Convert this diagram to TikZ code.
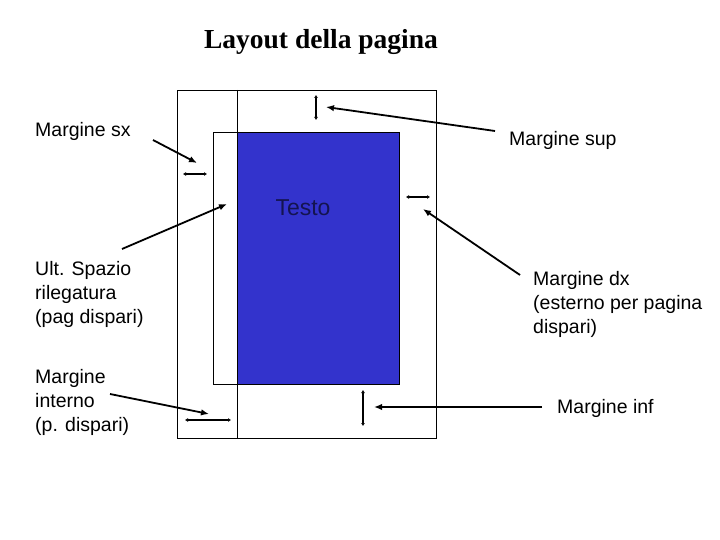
\documentclass[tikz,border=0pt]{standalone}
\usepackage{fontspec}
\setmainfont{Liberation Sans}
\newfontfamily\titlefont{Liberation Serif}
\usetikzlibrary{arrows.meta}
\definecolor{textblue}{RGB}{51,51,204}
\definecolor{navy}{RGB}{20,20,80}
\begin{document}
\begin{tikzpicture}[x=1pt,y=-1pt,
  lbl/.style={anchor=base west,inner sep=0pt,align=left,font=\fontsize{19.5}{24}\selectfont},
  pointer/.style={line width=1.8pt,-{Latex[length=8pt,width=6.5pt]}},
  measure/.style={line width=1.8pt,{Latex[length=3pt,width=4pt]}-{Latex[length=3pt,width=4pt]}},
  frame/.style={draw=black,line width=0.8pt}]
\useasboundingbox (0,0) rectangle (720,540);
% page
\draw[frame] (177,90) rectangle (436,438);
\draw[frame] (237,90) -- (237,438);
\draw[frame,fill=white] (213,132) rectangle (399,384);
\node[frame,fill=textblue,minimum width=162pt,minimum height=252pt,inner sep=0pt,anchor=north west] (testo) at (237,132) {};
\node[anchor=base,inner sep=0pt,text=navy,font=\fontsize{23}{27}\selectfont] (testolbl) at (303,215) {Testo};
% title
\node[anchor=base,inner sep=0pt,font=\titlefont\bfseries\fontsize{27.5}{32}\selectfont] (title) at (321,49) {Layout della pagina};
% labels
\node[lbl] (msx) at (35,137) {Margine sx};
\node[lbl] (msup) at (509,146) {Margine sup};
\node[lbl] (ult) at (35,323) {Ult. Spazio\\rilegatura\\(pag dispari)};
\node[lbl] (mint) at (35,431) {Margine\\interno\\(p. dispari)};
\node[lbl] (mdx) at (533,333) {Margine dx\\(esterno per pagina\\dispari)};
\node[lbl] (minf) at (557,413) {Margine inf};
% pointer coordinates
\coordinate (a1s) at (153,140); \coordinate (a1e) at (197,163);
\coordinate (a2s) at (495,131); \coordinate (a2e) at (326,107);
\coordinate (a3s) at (122,249); \coordinate (a3e) at (227,204);
\coordinate (a4s) at (520,275); \coordinate (a4e) at (423,209);
\coordinate (a5s) at (110,394); \coordinate (a5e) at (209,414);
\coordinate (a6s) at (542,407); \coordinate (a6e) at (374,407);
\draw[pointer] (a1s) -- (a1e);
\draw[pointer] (a2s) -- (a2e);
\draw[pointer] (a3s) -- (a3e);
\draw[pointer] (a4s) -- (a4e);
\draw[pointer] (a5s) -- (a5e);
\draw[pointer] (a6s) -- (a6e);
% measure coordinates
\coordinate (m1a) at (183,174); \coordinate (m1b) at (207,174);
\coordinate (m2a) at (316,95); \coordinate (m2b) at (316,120);
\coordinate (m3a) at (406,197); \coordinate (m3b) at (430,197);
\coordinate (m4a) at (185,420); \coordinate (m4b) at (231,420);
\coordinate (m5a) at (363,390); \coordinate (m5b) at (363,426);
\draw[measure] (m1a) -- (m1b);
\draw[measure] (m2a) -- (m2b);
\draw[measure] (m3a) -- (m3b);
\draw[measure] (m4a) -- (m4b);
\draw[measure] (m5a) -- (m5b);
\end{tikzpicture}
\end{document}
